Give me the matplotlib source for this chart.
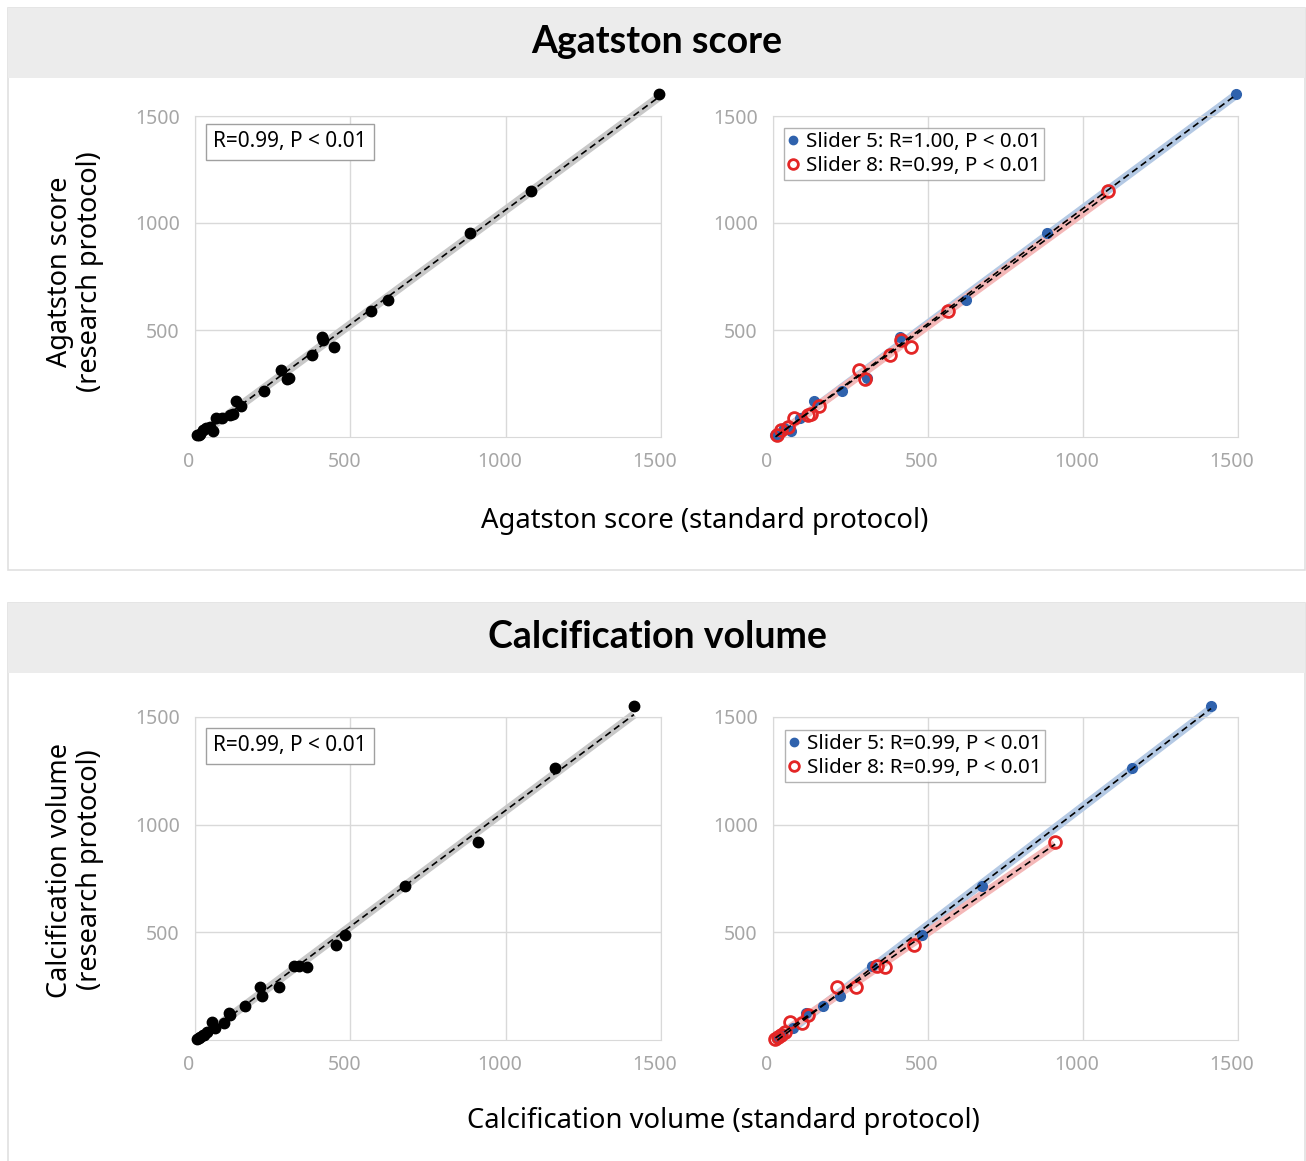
import matplotlib.pyplot as plt
import numpy as np
from matplotlib.patches import Rectangle
from matplotlib.lines import Line2D
from matplotlib.transforms import ScaledTranslation

plt.rcParams['font.family'] = ['Noto Sans', 'DejaVu Sans']

# Agatston score, standard (x) vs research (y) protocol
aga_s5_x = [1494, 884, 622, 410, 304, 221, 132, 86, 59, 35, 16, 8]
aga_s5_y = [1602, 953, 638, 465, 278, 213, 167, 88, 28, 42, 16, 8]
aga_s8_x = [1082, 565, 446, 413, 377, 276, 297, 148, 121, 113, 68, 48, 27, 12]
aga_s8_y = [1149, 591, 419, 452, 384, 314, 270, 147, 106, 102, 91, 47, 31, 10]

# Calcification volume
vol_s5_x = [1413, 1158, 675, 482, 319, 216, 161, 108, 65, 30, 14]
vol_s5_y = [1550, 1262, 714, 489, 345, 203, 156, 124, 54, 22, 8]
vol_s8_x = [910, 454, 335, 360, 208, 269, 113, 54, 92, 40, 25, 15, 8]
vol_s8_y = [918, 443, 345, 339, 245, 248, 116, 85, 80, 35, 25, 12, 5]

aga_r_all = 'R=0.99, P < 0.01'
aga_r_s5 = 'Slider 5: R=1.00, P < 0.01'
aga_r_s8 = 'Slider 8: R=0.99, P < 0.01'
vol_r_all = 'R=0.99, P < 0.01'
vol_r_s5 = 'Slider 5: R=0.99, P < 0.01'
vol_r_s8 = 'Slider 8: R=0.99, P < 0.01'

xticks = [0, 500, 1000, 1500]
yticks = [500, 1000, 1500]

W, H = 1306, 1161
fig = plt.figure(figsize=(W / 100, H / 100), dpi=100)

BLUE = '#2f62ad'
RED = '#e32626'
GRID = '#d9d9d9'
TICK = '#a6a6a6'


def rect(x0, y0, x1, y1):
    return [x0 / W, 1 - y1 / H, (x1 - x0) / W, (y1 - y0) / H]


def ftext(x, y, s, **kw):
    return fig.text(x / W, 1 - y / H, s, **kw)


def section(y0, y1, title):
    fig.add_artist(Rectangle((8 / W, 1 - y1 / H), 1297 / W, (y1 - y0) / H,
                             transform=fig.transFigure, facecolor='white',
                             edgecolor='#e0e0e0', lw=1.2, zorder=-2))
    fig.add_artist(Rectangle((8 / W, 1 - (y0 + 70) / H), 1297 / W, 70 / H,
                             transform=fig.transFigure, facecolor='#ececec',
                             edgecolor='none', zorder=-1))
    ftext(657, y0 + 34, title, ha='center', va='center', fontsize=27,
          fontweight='bold', family=['Lato', 'Open Sans', 'DejaVu Sans'])


def setup(ax):
    ax.patch.set_alpha(0)
    ax.set_xlim(0, 1500)
    ax.set_ylim(0, 1500)
    ax.set_xticks(xticks)
    ax.set_yticks(yticks)
    ax.grid(True, color=GRID, lw=1)
    for s in ax.spines.values():
        s.set_color(GRID)
    ax.tick_params(length=0, labelsize=14, labelcolor=TICK, pad=11)
    for lab in ax.get_xticklabels():
        lab.set_transform(lab.get_transform() +
                          ScaledTranslation(-0.06, 0, fig.dpi_scale_trans))
    ax.set_axisbelow(True)


def trend(ax, x, y, band):
    x = np.array(x, float)
    y = np.array(y, float)
    k, b = np.polyfit(x, y, 1)
    xs = np.array([x.min(), x.max()])
    ax.plot(xs, k * xs + b, color=band, lw=6, solid_capstyle='butt',
            clip_on=False, zorder=2)
    ax.plot(xs, k * xs + b, color='black', lw=1.2, ls=(0, (4, 2.5)),
            clip_on=False, zorder=5)


def left_panel(box, xa, ya, xb, yb, label, tpos):
    ax = fig.add_axes(rect(*box))
    setup(ax)
    x = xa + xb
    y = ya + yb
    trend(ax, x, y, '#c8c8c8')
    ax.plot(x, y, 'o', color='black', ms=7.5, clip_on=False, zorder=4)
    ftext(tpos[0], tpos[1], label, ha='left', va='center', fontsize=15,
          bbox=dict(boxstyle='square,pad=0.35', fc='white', ec='#a0a0a0',
                    lw=1))
    return ax


def right_panel(box, xa, ya, xb, yb, la, lb, lpos):
    ax = fig.add_axes(rect(*box))
    setup(ax)
    trend(ax, xa, ya, '#b4c9e4')
    trend(ax, xb, yb, '#f4b8b8')
    ax.plot(xa, ya, 'o', color=BLUE, ms=7, clip_on=False, zorder=3)
    ax.plot(xb, yb, 'o', mfc='none', mec=RED, mew=2, ms=8.5, clip_on=False,
            zorder=4)
    handles = [Line2D([], [], ls='none', marker='o', color=BLUE, ms=6),
               Line2D([], [], ls='none', marker='o', mfc='none', mec=RED,
                      mew=2, ms=7)]
    leg = ax.legend(handles, [la, lb], loc='upper left',
                    bbox_to_anchor=(lpos[0] / W, 1 - lpos[1] / H),
                    bbox_transform=fig.transFigure, borderaxespad=0,
                    fontsize=14.8, frameon=True, fancybox=False,
                    edgecolor='#a0a0a0', handlelength=0.5,
                    handletextpad=0.35, borderpad=0.2, labelspacing=0.2)
    leg.get_frame().set_linewidth(1)
    return ax


# top section
section(8, 570, 'Agatston score')
left_panel((195, 116, 661, 437), aga_s5_x, aga_s5_y, aga_s8_x, aga_s8_y,
           aga_r_all, (213, 142))
right_panel((773, 116, 1238, 437), aga_s5_x, aga_s5_y, aga_s8_x, aga_s8_y,
            aga_r_s5, aga_r_s8, (784, 128))
ftext(705, 521, 'Agatston score (standard protocol)', ha='center',
      va='center', fontsize=19.7)
ftext(75, 272, 'Agatston score\n(research protocol)', ha='center',
      va='center', fontsize=19.5, rotation=90, linespacing=1.1)

# bottom section
section(603, 1170, 'Calcification volume')
left_panel((195, 717, 661, 1040), vol_s5_x, vol_s5_y, vol_s8_x, vol_s8_y,
           vol_r_all, (213, 746))
right_panel((773, 717, 1238, 1040), vol_s5_x, vol_s5_y, vol_s8_x, vol_s8_y,
            vol_r_s5, vol_r_s8, (785, 730))
ftext(723, 1121, 'Calcification volume (standard protocol)', ha='center',
      va='center', fontsize=19.7)
ftext(75, 870, 'Calcification volume\n(research protocol)', ha='center',
      va='center', fontsize=19.5, rotation=90, linespacing=1.1)

fig.savefig('out.png', dpi=100)
